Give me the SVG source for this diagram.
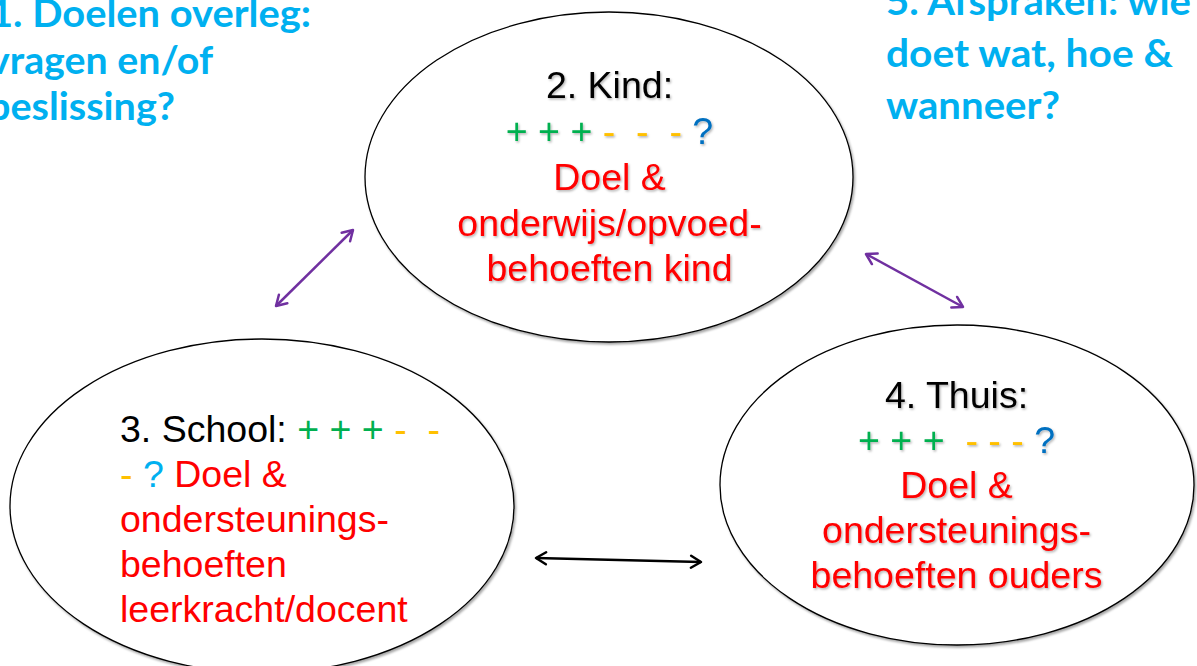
<svg xmlns="http://www.w3.org/2000/svg" width="1197" height="666" viewBox="0 0 1197 666">
  <defs>
    <style>
      .ell { fill: #ffffff; stroke: #000000; stroke-width: 1.3; filter: url(#eshadow); }
      .t { font-family: "Liberation Sans", Arial, sans-serif; font-size: 37.5px; }
      .blk { fill: #000000; }
      .grn { fill: #00B050; }
      .org { fill: #FFC000; }
      .blu { fill: #0070C0; }
      .lbl { fill: #00B0F0; }
      .red { fill: #FF0000; }
      .sh { filter: url(#tshadow); }
      .title { font-family: Lato, "Open Sans", "Liberation Sans", sans-serif; font-weight: bold; font-size: 39px; fill: #00B0F0; }
      .conn { fill: none; stroke-width: 2.5; }
      .purple { stroke: #7030A0; marker-start: url(#ahP); marker-end: url(#ahP); }
      .black { stroke: #000000; marker-start: url(#ahB); marker-end: url(#ahB); }
    </style>
    <filter id="eshadow" x="-5%" y="-5%" width="110%" height="112%">
      <feDropShadow dx="1.5" dy="2" stdDeviation="1" flood-color="#000000" flood-opacity="0.35"/>
    </filter>
    <filter id="tshadow" x="-5%" y="-10%" width="110%" height="130%">
      <feDropShadow dx="1.2" dy="1.5" stdDeviation="0.8" flood-color="#000000" flood-opacity="0.3"/>
    </filter>
    <marker id="ahP" markerUnits="userSpaceOnUse" markerWidth="16" markerHeight="16" refX="12" refY="7" orient="auto-start-reverse" overflow="visible">
      <path d="M2,1 L12,7 L2,13" fill="none" stroke="#7030A0" stroke-width="2.5" stroke-linecap="round" stroke-linejoin="round"/>
    </marker>
    <marker id="ahB" markerUnits="userSpaceOnUse" markerWidth="16" markerHeight="16" refX="12" refY="7" orient="auto-start-reverse" overflow="visible">
      <path d="M2,1 L12,7 L2,13" fill="none" stroke="#000000" stroke-width="2.5" stroke-linecap="round" stroke-linejoin="round"/>
    </marker>
  </defs>

  <rect x="0" y="0" width="1197" height="666" fill="#ffffff"/>

  <g id="title-doelen">
    <text class="title" x="-10" y="27" textLength="321" lengthAdjust="spacingAndGlyphs">1. Doelen overleg:</text>
    <text class="title" x="-11" y="74" textLength="224" lengthAdjust="spacingAndGlyphs">vragen en/of</text>
    <text class="title" x="-12" y="120" textLength="187" lengthAdjust="spacingAndGlyphs">beslissing?</text>
  </g>

  <g id="title-afspraken">
    <text class="title" x="886" y="15" textLength="305" lengthAdjust="spacingAndGlyphs">5. Afspraken: wie</text>
    <text class="title" x="886" y="67" textLength="287" lengthAdjust="spacingAndGlyphs">doet wat, hoe &amp;</text>
    <text class="title" x="886" y="119" textLength="174" lengthAdjust="spacingAndGlyphs">wanneer?</text>
  </g>

  <g id="connectors">
    <line class="conn purple" x1="276" y1="306" x2="353" y2="230"/>
    <line class="conn purple" x1="866" y1="254" x2="963" y2="307"/>
    <line class="conn black" x1="536" y1="558" x2="701" y2="562"/>
  </g>

  <g id="node-kind">
    <ellipse class="ell" cx="609" cy="177" rx="244" ry="165"/>
    <g class="t sh" text-anchor="middle">
      <text x="609.5" y="98" class="blk">2. Kind:</text>
      <text x="609.5" y="144"><tspan class="grn">+&#160;+&#160;+&#160;</tspan><tspan class="org">-&#160;&#160;-&#160;&#160;-&#160;</tspan><tspan class="blu">?</tspan></text>
      <text x="609.5" y="190" class="red">Doel &amp;</text>
      <text x="609.5" y="236" class="red">onderwijs/opvoed-</text>
      <text x="609.5" y="281" class="red">behoeften kind</text>
    </g>
  </g>

  <g id="node-school">
    <ellipse class="ell" cx="262" cy="506" rx="252" ry="167"/>
    <g class="t" text-anchor="start">
      <text x="120" y="442"><tspan class="blk">3. School:&#160;</tspan><tspan class="grn">+&#160;+&#160;+&#160;</tspan><tspan class="org">-&#160;&#160;-</tspan></text>
      <text x="120" y="487"><tspan class="org">-&#160;</tspan><tspan class="lbl">?&#160;</tspan><tspan class="red">Doel &amp;</tspan></text>
      <text x="120" y="532" class="red">ondersteunings-</text>
      <text x="120" y="577" class="red">behoeften</text>
      <text x="120" y="622" class="red">leerkracht/docent</text>
    </g>
  </g>

  <g id="node-thuis">
    <ellipse class="ell" cx="957" cy="485" rx="237" ry="160"/>
    <g class="t sh" text-anchor="middle">
      <text x="956.5" y="408" class="blk">4. Thuis:</text>
      <text x="956.5" y="453"><tspan class="grn">+&#160;+&#160;+&#160;&#160;</tspan><tspan class="org">-&#160;-&#160;-&#160;</tspan><tspan class="blu">?</tspan></text>
      <text x="956.5" y="498" class="red">Doel &amp;</text>
      <text x="956.5" y="543" class="red">ondersteunings-</text>
      <text x="956.5" y="588" class="red">behoeften ouders</text>
    </g>
  </g>
</svg>
